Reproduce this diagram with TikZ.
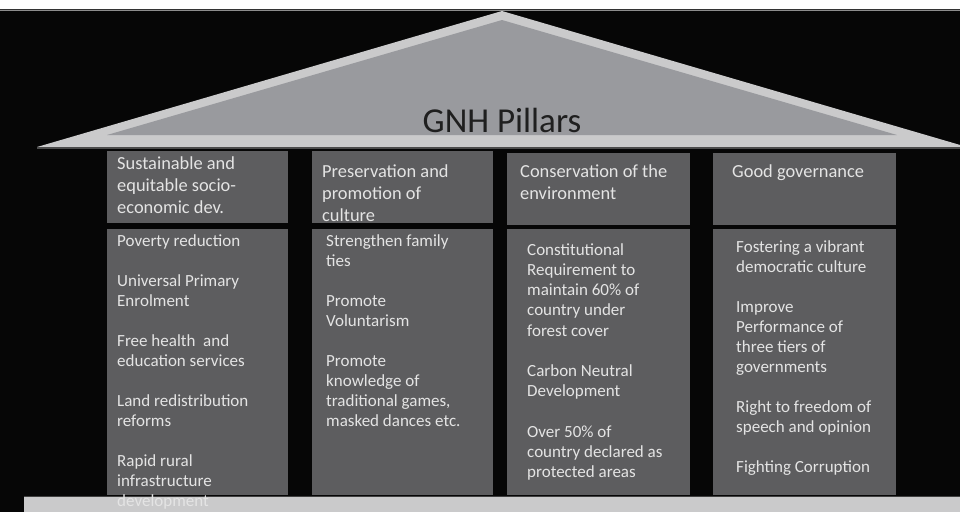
\documentclass[tikz,border=0pt]{standalone}
\usepackage{fontspec}
\setmainfont{Carlito}
\definecolor{gnhback}{RGB}{6,6,6}
\definecolor{gnhlight}{RGB}{202,202,203}
\definecolor{gnhroof}{RGB}{153,154,158}
\definecolor{gnhbox}{RGB}{93,93,95}
\definecolor{gnhtext}{RGB}{228,228,228}
\usetikzlibrary{calc}

\begin{document}
\begin{tikzpicture}[x=1pt, y=-1pt,
  pillar/.style={fill=gnhbox, anchor=north west, inner sep=0pt, outer sep=0pt, minimum width=181pt},
  headtxt/.style={anchor=north west, inner sep=0pt, align=left, text=gnhtext, font=\fontsize{18.4}{22}\selectfont},
  bodytxt/.style={anchor=north west, inner sep=0pt, align=left, text=gnhtext, font=\fontsize{17}{20}\selectfont}]
\useasboundingbox (0,0) rectangle (960,512);
\clip (0,0) rectangle (960,512);
% Background and top strip
\fill[gnhback] (0,0) rectangle (960,512);
\fill[white] (0,0) rectangle (960,9);
\draw[black!80, line width=1pt] (0,9.5) -- (960,9.5);
\draw[black!45, line width=1pt] (0,10.5) -- (960,10.5);
% Roof
\fill[gnhlight] (37,147) -- (502,11) -- (967,147) -- cycle;
\draw[black!70, line width=1.5pt] (37,148.2) -- (960,148.2);
\fill[gnhroof] (107,135) -- (502,20) -- (897,135) -- cycle;
\node[font=\fontsize{35}{40}\selectfont, text=black!88, anchor=base, inner sep=0pt] (title) at (502,132) {GNH Pillars};
% Base
\fill[gnhlight] (24,497) rectangle (960,512);
\draw[black!75, line width=1pt] (24,496.5) -- (960,496.5);
% Pillar headers
\node[pillar, minimum height=72pt] (hd1) at (107,151) {};
\node[pillar, minimum height=72pt] (hd2) at (312,151) {};
\node[pillar, minimum height=72pt, minimum width=183pt] (hd3) at (507,153) {};
\node[pillar, minimum height=72pt, minimum width=183pt] (hd4) at (713,153) {};
% Pillar bodies
\node[pillar, minimum height=266pt] (bd1) at (107,229) {};
\node[pillar, minimum height=266pt] (bd2) at (312,229) {};
\node[pillar, minimum height=266pt, minimum width=183pt] (bd3) at (507,229) {};
\node[pillar, minimum height=266pt, minimum width=183pt] (bd4) at (713,229) {};
% Header texts
\node[headtxt] (hd1txt) at (117,153.6) {\strut Sustainable and\\equitable socio-\\economic dev.};
\node[headtxt] (hd2txt) at (322,161.6) {\strut Preservation and\\promotion of\\culture};
\node[headtxt] (hd3txt) at (520,161.6) {\strut Conservation of the\\environment};
\node[headtxt] (hd4txt) at (732,161.6) {\strut Good governance};
% Body texts
\node[bodytxt] (bd1txt) at (117,232) {\strut Poverty reduction\\[20pt]Universal Primary\\Enrolment\\[20pt]Free health~ and\\education services\\[20pt]Land redistribution\\reforms\\[20pt]Rapid rural\\infrastructure\\development};
\node[bodytxt] (bd2txt) at (326,232) {\strut Strengthen family\\ties\\[20pt]Promote\\Voluntarism\\[20pt]Promote\\knowledge of\\traditional games,\\masked dances etc.};
\node[bodytxt, font=\fontsize{17}{20.2}\selectfont] (bd3txt) at (527,241) {\strut Constitutional\\Requirement to\\maintain 60\% of\\country under\\forest cover\\[20.2pt]Carbon Neutral\\Development\\[20.2pt]Over 50\% of\\country declared as\\protected areas};
\node[bodytxt] (bd4txt) at (736,238) {\strut Fostering a vibrant\\democratic culture\\[20pt]Improve\\Performance of\\three tiers of\\governments\\[20pt]Right to freedom of\\speech and opinion\\[20pt]Fighting Corruption};
\end{tikzpicture}
\end{document}
